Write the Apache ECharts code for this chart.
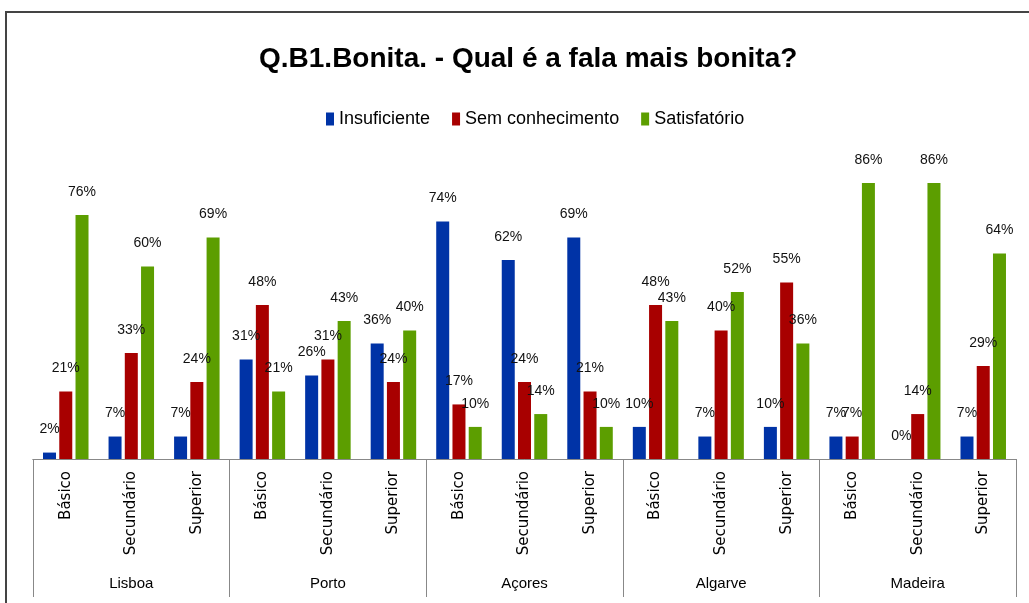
<!DOCTYPE html>
<html>
<head>
<meta charset="utf-8">
<script src="https://cdn.jsdelivr.net/npm/echarts@6/dist/echarts.min.js"></script>
<style>
  html, body { margin: 0; padding: 0; background: #fff; }
  #main { width: 1029px; height: 603px; }
</style>
</head>
<body>
<div id="main"></div>
<script>
// regiões e níveis de escolaridade
var regioes = ['Lisboa', 'Porto', 'Açores', 'Algarve', 'Madeira'];
var niveis = ['Básico', 'Secundário', 'Superior'];
var categorias = [];
regioes.forEach(function (r) {
    niveis.forEach(function (n) { categorias.push(n); });
});

// valores em %
var insuficiente = [2, 7, 7, 31, 26, 36, 74, 62, 69, 10, 7, 10, 7, 0, 7];
var semConhecimento = [21, 33, 24, 48, 31, 24, 17, 24, 21, 48, 40, 55, 7, 14, 29];
var satisfatorio = [76, 60, 69, 21, 43, 40, 10, 14, 10, 43, 52, 36, 86, 86, 64];

var fonte = '"Liberation Sans", sans-serif';

var etiqueta = {
    show: true,
    position: 'top',
    distance: 16,
    formatter: '{c}%',
    color: '#111',
    fontSize: 14,
    fontFamily: fonte
};

function serie(nome, dados, cor) {
    return {
        name: nome,
        type: 'bar',
        data: dados,
        barWidth: 13,
        barGap: '25%',
        itemStyle: { color: cor },
        label: etiqueta
    };
}

var chart = echarts.init(document.getElementById('main'));
var option = {
    animation: false,
    title: {
        text: 'Q.B1.Bonita. - Qual é a fala mais bonita?',
        left: 254,
        top: 40,
        textStyle: {
            fontFamily: fonte,
            fontWeight: 'bold',
            fontSize: 28,
            color: '#000'
        }
    },
    legend: {
        top: 105,
        left: 321,
        itemWidth: 8,
        itemHeight: 13,
        itemGap: 22,
        icon: 'rect',
        textStyle: {
            fontFamily: fonte,
            fontSize: 18,
            color: '#000'
        },
        data: ['Insuficiente', 'Sem conhecimento', 'Satisfatório']
    },
    graphic: [{
        type: 'rect',
        shape: { x: 6, y: 12, width: 1060, height: 640 },
        style: { fill: 'none', stroke: '#444', lineWidth: 2 },
        silent: true
    }],
    grid: { left: 33, right: 13, top: 138, bottom: 144 },
    xAxis: [{
        type: 'category',
        data: categorias,
        axisLine: { show: true, lineStyle: { color: '#888' } },
        axisTick: { show: false },
        axisLabel: {
            rotate: 90,
            margin: 12,
            fontFamily: '"DejaVu Sans", sans-serif',
            fontSize: 15,
            color: '#000',
            interval: 0
        }
    }, {
        type: 'category',
        data: regioes,
        position: 'bottom',
        axisLine: { show: true, lineStyle: { color: '#888' } },
        axisTick: { show: true, length: 138, lineStyle: { color: '#888' } },
        axisLabel: {
            margin: 117,
            fontFamily: fonte,
            fontSize: 15,
            color: '#000'
        }
    }],
    yAxis: {
        type: 'value',
        min: 0,
        max: 100,
        show: false
    },
    series: [
        serie('Insuficiente', insuficiente, '#0033a6'),
        serie('Sem conhecimento', semConhecimento, '#a80000'),
        serie('Satisfatório', satisfatorio, '#5c9e00')
    ]
};
chart.setOption(option);
</script>
</body>
</html>
